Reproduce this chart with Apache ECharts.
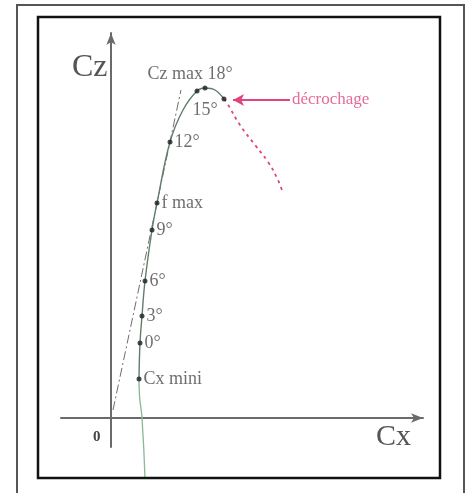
<!DOCTYPE html>
<html>
<head>
<meta charset="utf-8">
<script src="https://cdn.jsdelivr.net/npm/echarts@6/dist/echarts.min.js"></script>
<style>
html,body{margin:0;padding:0;background:#fff;}
#chart{width:472px;height:493px;}
</style>
</head>
<body>
<div id="chart"></div>
<script>
// ---- data (Cx, Cz) ----
// polar curve below the minimum-drag point
const polarLowerCx = [0.0136, 0.0124, 0.0114, 0.0112];
const polarLowerCz = [-0.24, 0.0, 0.09, 0.156];
// polar curve from Cx mini up to the stall point
const polarUpperCx = [0.0112, 0.0116, 0.0124, 0.0136, 0.0164, 0.0184, 0.0236, 0.0288, 0.0344, 0.0376, 0.0416, 0.0452];
const polarUpperCz = [0.156, 0.300, 0.408, 0.548, 0.752, 0.860, 1.104, 1.232, 1.308, 1.320, 1.312, 1.276];
// post-stall (dashed)
const stallCx = [0.0452, 0.0464, 0.0516, 0.0576, 0.0628, 0.0664, 0.0688];
const stallCz = [1.276, 1.260, 1.172, 1.092, 1.024, 0.960, 0.900];
// tangent from origin through f max
const tangentCx = [0.0008, 0.0280];
const tangentCz = [0.032, 1.312];
// marked points
const pointNames = ['Cx mini', '0°', '3°', '6°', '9°', 'f max', '12°', '15°', 'Cz max 18°', ''];
const pointCx = [0.0112, 0.0116, 0.0124, 0.0136, 0.0164, 0.0184, 0.0236, 0.0344, 0.0376, 0.0452];
const pointCz = [0.156, 0.300, 0.408, 0.548, 0.752, 0.860, 1.104, 1.308, 1.320, 1.276];
// stall annotation
const stallLabel = 'décrochage';
const stallArrowFrom = [0.0716, 1.272];
const stallArrowTo = [0.0488, 1.272];
// axis titles
const xTitle = 'Cx', yTitle = 'Cz', originLabel = '0';

const zip = (a, b) => a.map((v, i) => [v, b[i]]);
const serif = '"Liberation Serif","DejaVu Serif",serif';
const textGray = '#4a4a4a';
const pink = '#e0457f';

const labelLayout = {
  'Cz max 18°': { position: 'top', offset: [-15, 0] },
  '15°': { position: 'right', offset: [-9, 19] }
};

const chart = echarts.init(document.getElementById('chart'), null, { renderer: 'canvas' });
chart.setOption({
  animation: false,
  backgroundColor: '#fff',
  grid: { left: 61, right: 49, top: 33, bottom: 46 },
  xAxis: {
    type: 'value', min: -0.02, max: 0.1248,
    axisLine: { show: true, onZero: true, symbol: ['none', 'arrow'], symbolSize: [7, 12],
      lineStyle: { color: '#6a6a6a', width: 2 } },
    axisTick: { show: false }, axisLabel: { show: false }, splitLine: { show: false }
  },
  yAxis: {
    type: 'value', min: -0.116, max: 1.54,
    axisLine: { show: true, onZero: true, symbol: ['none', 'arrow'], symbolSize: [7, 12],
      lineStyle: { color: '#6a6a6a', width: 2 } },
    axisTick: { show: false }, axisLabel: { show: false }, splitLine: { show: false }
  },
  series: [
    { type: 'line', data: zip(polarLowerCx, polarLowerCz), smooth: true, showSymbol: false, clip: false,
      lineStyle: { color: '#86b896', width: 1.3 }, z: 2 },
    { type: 'line', data: zip(polarUpperCx, polarUpperCz), smooth: 0.4, showSymbol: false, clip: false,
      lineStyle: { color: '#5f7f6a', width: 1.4 }, z: 2 },
    { type: 'line', data: zip(stallCx, stallCz), smooth: true, showSymbol: false, clip: false,
      lineStyle: { color: pink, width: 1.8, type: [3, 4] }, z: 2 },
    { type: 'line', data: zip(tangentCx, tangentCz), showSymbol: false, clip: false,
      lineStyle: { color: '#6d6d6d', width: 1, type: [9, 3, 2, 3] }, z: 1 },
    { type: 'scatter', symbol: 'circle', symbolSize: 5, clip: false,
      itemStyle: { color: '#1e1e1e' },
      data: pointCx.map((x, i) => {
        const n = pointNames[i];
        const lay = labelLayout[n] || { position: 'right', offset: [0, 0] };
        return { value: [x, pointCz[i]], name: n,
          label: { show: n !== '', position: lay.position, offset: lay.offset, distance: 2,
            formatter: n, fontFamily: serif, fontSize: 18, color: textGray } };
      }),
      z: 5 },
    { type: 'scatter', symbolSize: 0, clip: false,
      data: [{ value: stallArrowFrom, name: stallLabel }],
      label: { show: true, position: 'right', distance: 2, formatter: stallLabel,
        fontFamily: serif, fontSize: 17, color: pink },
      markLine: {
        silent: true, symbol: ['none', 'arrow'], symbolSize: [9, 11],
        label: { show: false },
        lineStyle: { color: pink, width: 2, type: 'solid' },
        data: [[{ coord: stallArrowFrom }, { coord: stallArrowTo }]]
      },
      z: 5 }
  ],
  graphic: [
    { type: 'rect', shape: { x: 17, y: 5, width: 447, height: 520 },
      style: { fill: 'none', stroke: '#555', lineWidth: 2 }, z: 10 },
    { type: 'rect', shape: { x: 38, y: 17, width: 402, height: 461 },
      style: { fill: 'none', stroke: '#111', lineWidth: 2.5 }, z: 10 },
    { type: 'text', left: 72, top: 52,
      style: { text: yTitle, font: '32px ' + serif, fill: '#555' }, z: 10 },
    { type: 'text', left: 376, top: 422,
      style: { text: xTitle, font: '30px ' + serif, fill: '#555' }, z: 10 },
    { type: 'text', left: 93, top: 430,
      style: { text: originLabel, font: 'bold 15px ' + serif, fill: '#444' }, z: 10 }
  ]
});
</script>
</body>
</html>
